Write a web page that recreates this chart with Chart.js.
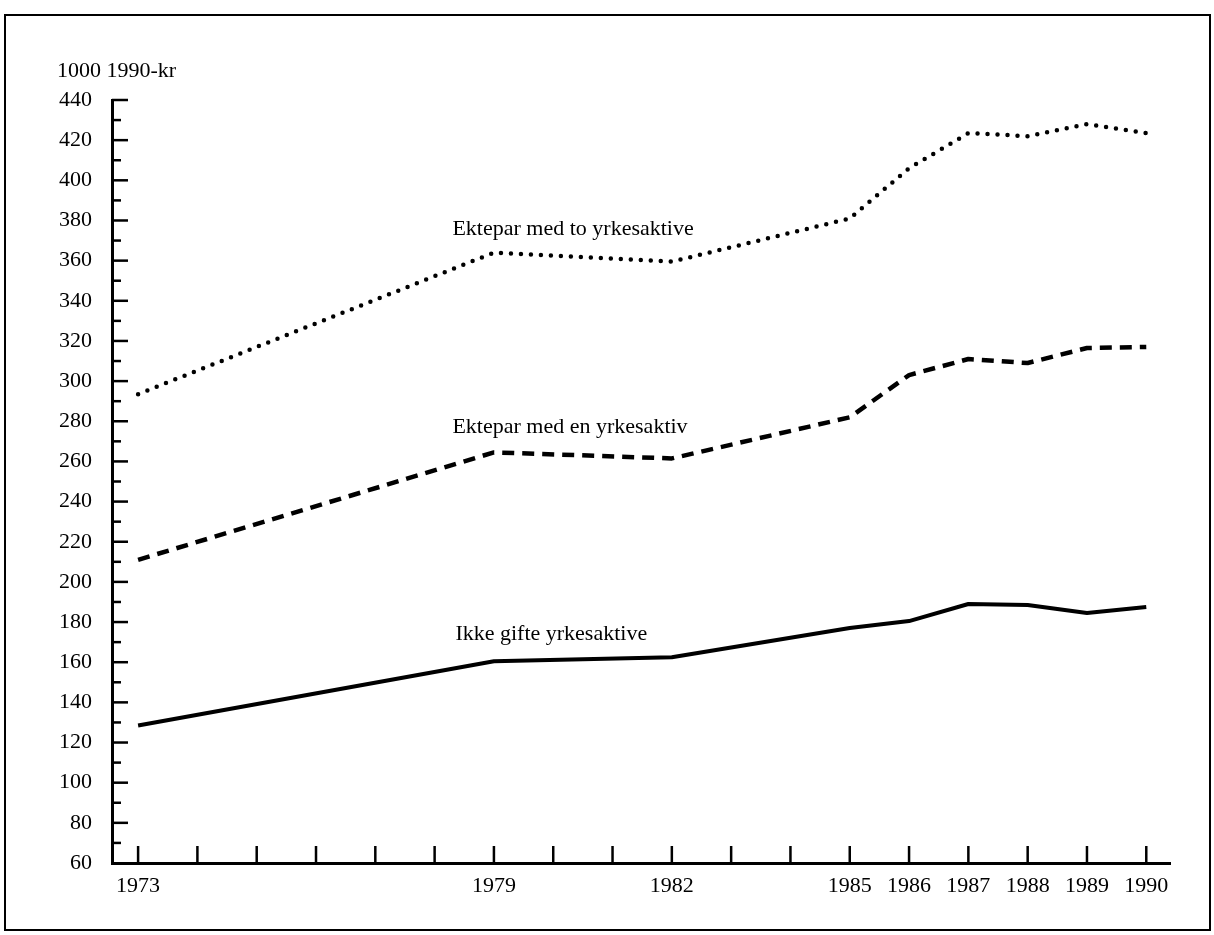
<!DOCTYPE html>
<html>
<head>
<meta charset="utf-8">
<script src="https://cdn.jsdelivr.net/npm/chart.js@4.4.1/dist/chart.umd.min.js"></script>
<style>
  html, body { margin: 0; padding: 0; background: #fff; }
  #wrap { position: relative; width: 1214px; height: 935px; }
</style>
</head>
<body>
<div id="wrap"><canvas id="c" width="1214" height="935"></canvas></div>
<script>
// ---- Data ----
const years = [1973, 1979, 1982, 1985, 1986, 1987, 1988, 1989, 1990];
const toYrkesaktive = [293.5, 364, 359.5, 381, 406, 423.5, 422, 428, 423.5];
const enYrkesaktiv = [211, 264.5, 261.5, 282, 303, 311, 309, 316.5, 317];
const ikkeGifte = [128.5, 160.5, 162.5, 177, 180.5, 189, 188.5, 184.5, 187.5];
const xTickYears = [1973, 1979, 1982, 1985, 1986, 1987, 1988, 1989, 1990];
const yMin = 60, yMax = 440, yStep = 20;
const seriesNames = ['Ektepar med to yrkesaktive', 'Ektepar med en yrkesaktiv', 'Ikke gifte yrkesaktive'];
const seriesLabelPos = [[1978.3, 375.5], [1978.3, 277], [1978.35, 174]];
const unitLabel = '1000 1990-kr';

const FONT = "'Liberation Serif', 'DejaVu Serif', serif";
const pts = arr => years.map((y, i) => ({ x: y, y: arr[i] }));

const decor = {
  id: 'decor',
  afterDraw(chart) {
    const ctx = chart.ctx;
    const xs = chart.scales.x, ys = chart.scales.y;
    const ca = chart.chartArea;
    ctx.save();
    // frame
    ctx.strokeStyle = '#000';
    ctx.lineWidth = 2;
    ctx.strokeRect(5, 15, 1205, 915);
    // y ticks (inside)
    ctx.lineWidth = 2.5;
    for (let v = yMin + 10; v <= yMax; v += 10) {
      const py = ys.getPixelForValue(v);
      const len = (v % 20 === 0) ? 16 : 9;
      ctx.beginPath();
      ctx.moveTo(ca.left, py);
      ctx.lineTo(ca.left + len, py);
      ctx.stroke();
    }
    // x ticks (inside, every year)
    for (let yr = 1973; yr <= 1990; yr++) {
      const px = xs.getPixelForValue(yr);
      ctx.beginPath();
      ctx.moveTo(px, ca.bottom);
      ctx.lineTo(px, ca.bottom - 17);
      ctx.stroke();
    }
    // unit label
    ctx.fillStyle = '#000';
    ctx.font = '22px ' + FONT;
    ctx.textAlign = 'left';
    ctx.textBaseline = 'middle';
    ctx.fillText(unitLabel, 57, 71);
    // series labels
    seriesNames.forEach((n, i) => {
      ctx.fillText(n, xs.getPixelForValue(seriesLabelPos[i][0]), ys.getPixelForValue(seriesLabelPos[i][1]));
    });
    ctx.restore();
  }
};

new Chart(document.getElementById('c'), {
  type: 'line',
  data: {
    datasets: [
      { label: seriesNames[0], data: pts(toYrkesaktive), borderColor: '#000', borderWidth: 4.5,
        borderDash: [0, 10], borderCapStyle: 'round', borderJoinStyle: 'round', pointRadius: 0,
        tension: 0, fill: false },
      { label: seriesNames[1], data: pts(enYrkesaktiv), borderColor: '#000', borderWidth: 4.5,
        borderDash: [12, 8], borderCapStyle: 'butt', borderJoinStyle: 'round', pointRadius: 0,
        tension: 0, fill: false },
      { label: seriesNames[2], data: pts(ikkeGifte), borderColor: '#000', borderWidth: 4,
        borderJoinStyle: 'round', pointRadius: 0, tension: 0, fill: false }
    ]
  },
  options: {
    responsive: false,
    animation: false,
    devicePixelRatio: 1,
    layout: { padding: { top: 100, right: 44, bottom: 0, left: 0 } },
    plugins: { legend: { display: false }, tooltip: { enabled: false }, title: { display: false } },
    scales: {
      x: {
        type: 'linear', min: 1972.56, max: 1990.4,
        afterBuildTicks: s => { s.ticks = xTickYears.map(v => ({ value: v })); },
        afterFit: s => { s.height = 72; },
        ticks: { color: '#000', font: { family: FONT, size: 22 }, padding: 10,
          maxRotation: 0, autoSkip: false, callback: v => String(v) },
        grid: { drawOnChartArea: false, drawTicks: false },
        border: { display: true, color: '#000', width: 3 }
      },
      y: {
        min: yMin, max: yMax,
        afterFit: s => { s.width = 112; },
        ticks: { stepSize: yStep, color: '#000', font: { family: FONT, size: 22 }, padding: 20 },
        grid: { drawOnChartArea: false, drawTicks: false },
        border: { display: true, color: '#000', width: 3 }
      }
    }
  },
  plugins: [decor]
});
</script>
</body>
</html>
